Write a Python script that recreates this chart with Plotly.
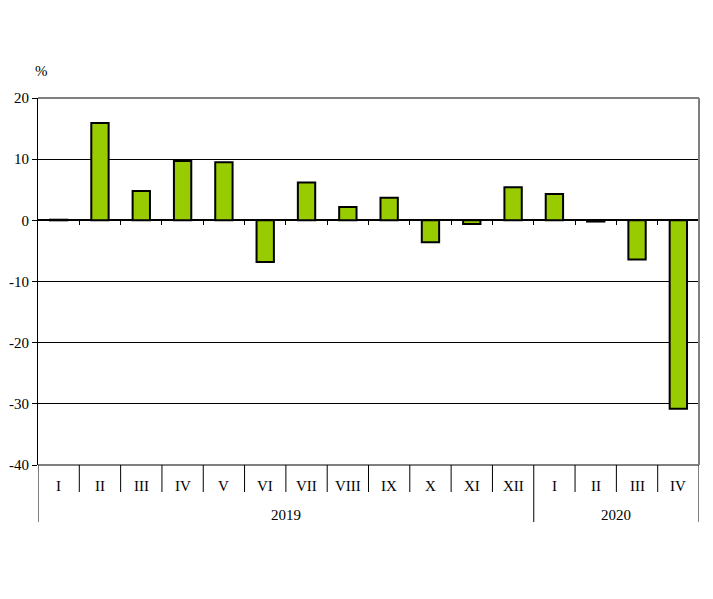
import plotly.graph_objects as go

months = ["I", "II", "III", "IV", "V", "VI", "VII", "VIII", "IX", "X", "XI", "XII",
          "I", "II", "III", "IV"]
values = [0.1, 15.9, 4.8, 9.7, 9.5, -6.8, 6.2, 2.2, 3.7, -3.6, -0.6, 5.4,
          4.3, -0.2, -6.4, -30.8]
years = ["2019", "2020"]
year_counts = [12, 4]
y_ticks = [20, 10, 0, -10, -20, -30, -40]

FONT = "Liberation Serif"
x = list(range(len(months)))

fig = go.Figure()
fig.add_trace(go.Bar(
    x=x, y=values, width=0.42,
    marker=dict(color="#99CC00", line=dict(color="black", width=2)),
    showlegend=False, hoverinfo="skip"))

# dummy trace for the zero-line tick axis
fig.add_trace(go.Scatter(x=[-0.5, 15.5], y=[0, 0], xaxis="x2", mode="lines",
                         line=dict(width=0), showlegend=False, hoverinfo="skip"))

n = len(months)
shapes = []
shapes.append(dict(type="line", xref="paper", yref="paper", x0=0, x1=1, y0=1, y1=1,
                   line=dict(color="#808080", width=2)))
shapes.append(dict(type="line", xref="paper", yref="paper", x0=1, x1=1, y0=0, y1=1,
                   line=dict(color="#808080", width=2)))
shapes.append(dict(type="line", xref="paper", yref="paper", x0=0, x1=1, y0=0, y1=0,
                   line=dict(color="#808080", width=2)))

short_y = -0.0736
long_y = -0.1553
bounds_long = [-0.5]
acc = -0.5
for c in year_counts:
    acc += c
    bounds_long.append(acc)
for i in range(n + 1):
    b = i - 0.5
    y1 = long_y if b in bounds_long else short_y
    shapes.append(dict(type="line", xref="x", yref="paper", x0=b, x1=b, y0=0, y1=y1,
                       line=dict(color="black", width=1)))

annotations = []
for i, m in enumerate(months):
    annotations.append(dict(x=i, y=-0.057, xref="x", yref="paper", text=m,
                            showarrow=False, font=dict(family=FONT, size=15, color="black"),
                            yanchor="middle"))
start = 0
for yname, c in zip(years, year_counts):
    annotations.append(dict(x=start + (c - 1) / 2, y=-0.136, xref="x", yref="paper",
                            text=yname, showarrow=False,
                            font=dict(family=FONT, size=15, color="black"),
                            yanchor="middle"))
    start += c
annotations.append(dict(x=0.006, y=1.0736, xref="paper", yref="paper", text="%",
                        showarrow=False, font=dict(family=FONT, size=15, color="black"),
                        xanchor="center", yanchor="middle"))

fig.update_layout(
    width=713, height=599,
    margin=dict(l=38, r=14, t=98, b=134, autoexpand=False),
    paper_bgcolor="white", plot_bgcolor="white",
    font=dict(family=FONT, size=15, color="black"),
    xaxis=dict(range=[-0.5, 15.5], showticklabels=False, showgrid=False, zeroline=False,
               showline=False, ticks="", fixedrange=True),
    xaxis2=dict(range=[-0.5, 15.5], overlaying="x", anchor="free", position=0.6667,
                side="bottom", tickvals=[i + 0.5 for i in range(n - 1)], ticks="outside",
                ticklen=4, tickcolor="black", showticklabels=False, showgrid=False,
                zeroline=False, showline=False),
    yaxis=dict(range=[-40, 20], tickvals=y_ticks, ticktext=[str(v) for v in y_ticks],
               automargin=False,
               showgrid=True, gridcolor="black", gridwidth=1, zeroline=True,
               zerolinecolor="black", zerolinewidth=1.5, showline=True, linecolor="black",
               linewidth=1, ticks="outside", ticklen=5, tickcolor="black",
               tickfont=dict(family=FONT, size=15, color="black")),
    shapes=shapes, annotations=annotations,
    bargap=0.58,
)

fig.write_html("out.html", config={"displayModeBar": False},
               post_script="document.body.style.margin='0';")
